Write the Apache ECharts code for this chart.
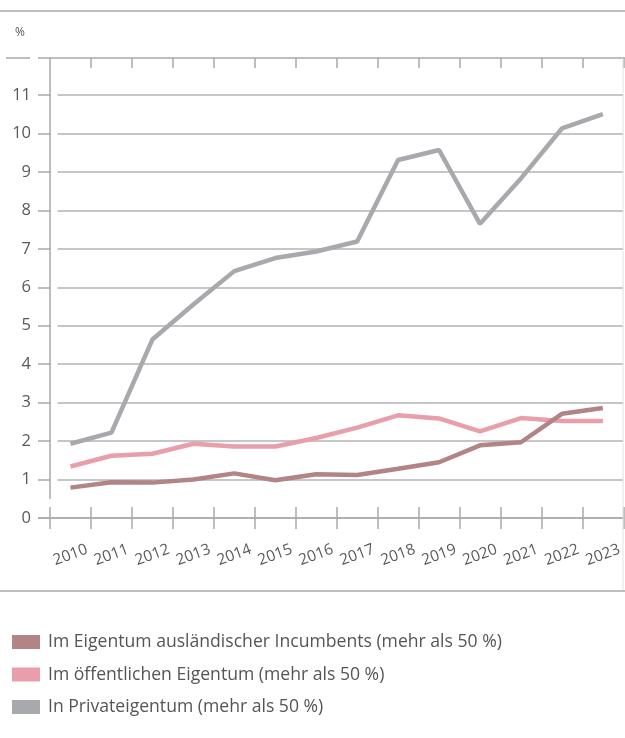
<!DOCTYPE html>
<html>
<head>
<meta charset="utf-8">
<script src="https://cdn.jsdelivr.net/npm/echarts@6/dist/echarts.min.js"></script>
<style>
html,body{margin:0;padding:0;background:#fff;}
#chart{width:625px;height:738px;}
</style>
</head>
<body>
<div id="chart"></div>
<script>
const years = ['2010','2011','2012','2013','2014','2015','2016','2017','2018','2019','2020','2021','2022','2023'];
const foreignIncumbents = [0.79,0.93,0.92,1.00,1.16,0.98,1.14,1.12,1.28,1.45,1.89,1.97,2.71,2.86];
const publicOwned = [1.34,1.62,1.67,1.93,1.86,1.86,2.08,2.35,2.67,2.59,2.25,2.60,2.52,2.52];
const privateOwned = [1.93,2.22,4.64,5.55,6.42,6.76,6.93,7.19,9.31,9.57,7.65,8.83,10.13,10.50];
const seriesNames = [
  'Im Eigentum ausländischer Incumbents (mehr als 50 %)',
  'Im öffentlichen Eigentum (mehr als 50 %)',
  'In Privateigentum (mehr als 50 %)'
];
const colors = ['#b28485','#e89eab','#a7a9ac'];

const FONT = 'Open Sans';
const AX = '#a9a9a9';
const chart = echarts.init(document.getElementById('chart'), null, {renderer:'canvas'});
const lineStyleG = {stroke: AX, lineWidth: 1.5};
chart.setOption({
  animation: false,
  backgroundColor: '#fff',
  color: colors,
  textStyle: {fontFamily: FONT},
  grid: {left: 50, right: 0, top: 95, bottom: 220, containLabel: false},
  legend: {
    orient: 'vertical', left: 7, top: 628,
    itemWidth: 28, itemHeight: 14, itemGap: 14.5,
    icon: 'rect',
    data: seriesNames,
    textStyle: {fontSize: 17.6, lineHeight: 17, color: '#555', fontFamily: FONT, padding: [0,0,0,3]}
  },
  xAxis: [
    {
      type: 'category', data: years, position: 'bottom', boundaryGap: true,
      axisLine: {show: true, lineStyle: {color: AX, width: 1.5}},
      axisTick: {show: true, inside: false, length: 11, interval: 0, lineStyle: {color: AX, width: 1.5}},
      axisLabel: {interval: 0, rotate: 20, align: 'center', verticalAlign: 'middle', margin: 37,
                  fontSize: 15.5, color: '#5a5a5a', fontFamily: FONT},
      splitLine: {show: false}
    },
    {
      type: 'category', data: years, position: 'bottom', boundaryGap: true,
      axisLine: {show: false},
      axisTick: {show: true, inside: true, length: 11, interval: 0, lineStyle: {color: AX, width: 1.5}},
      axisLabel: {show: false}, splitLine: {show: false}
    },
    {
      type: 'category', data: years, position: 'top', offset: 37, boundaryGap: true,
      axisLine: {show: false},
      axisTick: {show: true, inside: true, length: 10, interval: 0, lineStyle: {color: AX, width: 1.5}},
      axisLabel: {show: false}, splitLine: {show: false}
    }
  ],
  yAxis: {
    type: 'value', min: 0, max: 11, interval: 1,
    axisLine: {show: false},
    axisTick: {show: true, inside: false, length: 12, lineStyle: {color: AX, width: 1.5}},
    axisLabel: {margin: 19, fontSize: 16.5, color: '#5a5a5a', fontFamily: FONT},
    splitLine: {show: true, lineStyle: {color: '#b3b3b3', width: 1.5}}
  },
  graphic: [
    {type: 'line', shape: {x1: 0, y1: 11, x2: 625, y2: 11}, style: lineStyleG, z: 5},
    {type: 'line', shape: {x1: 6, y1: 58, x2: 30, y2: 58}, style: lineStyleG, z: 5},
    {type: 'line', shape: {x1: 38, y1: 58, x2: 625, y2: 58}, style: lineStyleG, z: 5},
    {type: 'text', left: 15, top: 27, style: {text: '%', fontSize: 12, fill: '#5a5a5a', fontFamily: FONT}, z: 5},
    {type: 'line', shape: {x1: 50, y1: 68, x2: 50, y2: 499}, style: lineStyleG, z: 5},
    {type: 'line', shape: {x1: 38, y1: 518, x2: 50, y2: 518}, style: lineStyleG, z: 5},
    {type: 'rect', shape: {x: 51, y: 88, width: 6.5, height: 425}, style: {fill: '#fff'}, z: 5},
    {type: 'line', shape: {x1: 623, y1: 58, x2: 623, y2: 591}, style: {stroke: '#e2e2e2', lineWidth: 1}, z: 5},
    {type: 'line', shape: {x1: 0, y1: 591, x2: 625, y2: 591}, style: lineStyleG, z: 5}
  ],
  series: [
    {name: seriesNames[0], type: 'line', data: foreignIncumbents, symbol: 'none', xAxisIndex: 0,
     lineStyle: {width: 4.5, color: colors[0]}, z: 3},
    {name: seriesNames[1], type: 'line', data: publicOwned, symbol: 'none', xAxisIndex: 0,
     lineStyle: {width: 4.5, color: colors[1]}, z: 2},
    {name: seriesNames[2], type: 'line', data: privateOwned, symbol: 'none', xAxisIndex: 0,
     lineStyle: {width: 4.5, color: colors[2]}, z: 4}
  ]
});
</script>
</body>
</html>
